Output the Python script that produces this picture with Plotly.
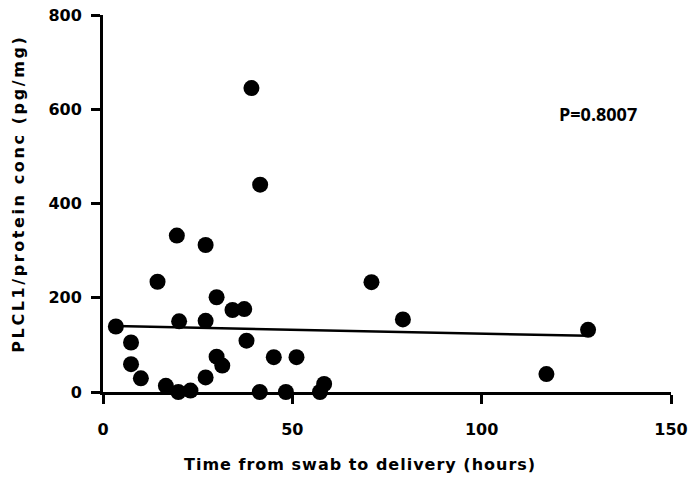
import numpy as np
import plotly.graph_objects as go

# Time from swab to delivery (hours) and PLCL1/protein concentration (pg/mg)
hours = [3.4, 7.4, 7.4, 10.0, 14.4, 16.6, 19.5, 20.1, 19.9, 23.1,
         27.1, 27.1, 27.1, 30.0, 30.0, 31.5, 34.2, 37.3, 37.9, 39.2,
         41.5, 41.4, 45.1, 48.3, 51.1, 57.3, 58.4, 70.9, 79.2, 117.1, 128.1]
plcl1 = [139, 105, 59, 29, 234, 13, 332, 150, 0, 3,
         312, 151, 31, 201, 75, 56, 174, 176, 109, 645,
         440, 0, 74, 0, 74, 0, 17, 233, 154, 38, 132]

x_ticks = [0, 50, 100, 150]
y_ticks = [0, 200, 400, 600, 800]
p_label = "P=0.8007"

# Least-squares fit line across the observed range
slope, intercept = np.polyfit(hours, plcl1, 1)
fit_x = [min(hours), max(hours)]
fit_y = [intercept + slope * v for v in fit_x]

tick_font = dict(family="DejaVu Sans", size=16, color="black", weight="bold")
title_font = dict(family="DejaVu Sans", size=16, color="black", weight="bold")

fig = go.Figure()
fig.add_trace(go.Scatter(
    x=fit_x, y=fit_y, mode="lines",
    line=dict(color="black", width=2.5),
    hoverinfo="skip", showlegend=False, cliponaxis=False,
))
fig.add_trace(go.Scatter(
    x=hours, y=plcl1, mode="markers",
    marker=dict(color="black", size=16, line=dict(width=0)),
    showlegend=False, cliponaxis=False,
))

axis_common = dict(
    showline=True, linecolor="black", linewidth=3,
    ticks="outside", ticklen=9, tickwidth=3, tickcolor="black",
    showgrid=False, zeroline=False, tickfont=tick_font,
)
fig.update_xaxes(range=[0, 150], tickvals=x_ticks, ticktext=[str(v) for v in x_ticks],
                 ticklabelstandoff=12, **axis_common)
fig.update_yaxes(range=[0, 800], tickvals=y_ticks, ticktext=[str(v) for v in y_ticks],
                 ticklabelstandoff=6, **axis_common)

fig.add_annotation(text="Time from swab to delivery (hours)", xref="paper", yref="paper",
                   x=0.4525, y=-0.1936, xanchor="center", yanchor="middle",
                   showarrow=False, font=title_font, name="xtitle")
fig.add_annotation(text="PLCL1/protein conc (pg/mg)", xref="paper", yref="paper",
                   x=-0.1479, y=0.528, xanchor="center", yanchor="middle", textangle=-90,
                   showarrow=False, font=title_font, name="ytitle")
fig.add_annotation(text=p_label, xref="x", yref="y", x=120.0, y=590,
                   xanchor="left", yanchor="middle", showarrow=False,
                   font=dict(family="Open Sans", size=18, color="black", weight="bold"))

fig.update_layout(
    width=692, height=482,
    margin=dict(l=103, r=21, t=15, b=90, autoexpand=False),
    paper_bgcolor="white", plot_bgcolor="white",
)

# Widen the spacing of the axis title lettering
post_script = """
var gd = document.getElementById('{plot_id}');
var spacing = {0: '1px', 1: '2.6px'};
gd.querySelectorAll('g.annotation').forEach(function (g) {
  var idx = g.getAttribute('data-index');
  if (idx in spacing) {
    g.querySelectorAll('text').forEach(function (t) {
      t.style.letterSpacing = spacing[idx];
    });
  }
});
"""

fig.write_html("out.html", post_script=post_script)
